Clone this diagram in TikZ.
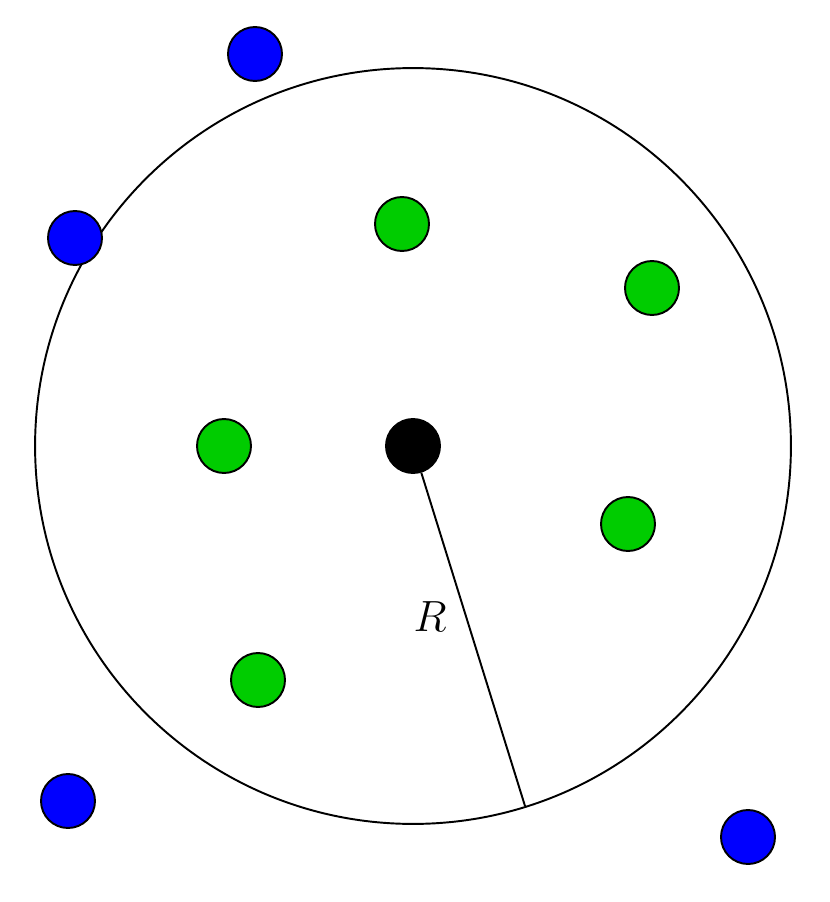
\documentclass[tikz,border=0pt]{standalone}
\usetikzlibrary{positioning}
\definecolor{dotinside}{HTML}{00CC00}
\definecolor{dotoutside}{HTML}{0000FF}

\begin{document}
\begin{tikzpicture}[
        x=0.02cm, y=-0.02cm,
        line width=1.1pt,
        dot/.style={
            draw,
            circle,
            inner sep=0pt,
            minimum size=1.08cm
        },
        inside/.style={dot, fill=dotinside},
        outside/.style={dot, fill=dotoutside},
        hubdot/.style={dot, fill=black}
    ]
        \useasboundingbox (0,0) rectangle (830,902);

        \node[hubdot] (hub) at (413,446) {};
        \draw (hub.center) circle[radius=7.56cm];

        \node[inside] (inone) at (402,224) {};
        \node[inside] (intwo) at (652,288) {};
        \node[inside] (inthree) at (224,446) {};
        \node[inside] (infour) at (628,524) {};
        \node[inside] (infive) at (258,680) {};

        \node[outside] (outone) at (255,54) {};
        \node[outside] (outtwo) at (75,238) {};
        \node[outside] (outthree) at (68,801) {};
        \node[outside] (outfour) at (748,837) {};

        \coordinate (rim) at (525,806);
        \draw (hub) -- (rim);
        \node[font=\fontsize{26}{30}\selectfont] (rlabel) at (430,617) {$R$};
    \end{tikzpicture}
\end{document}
